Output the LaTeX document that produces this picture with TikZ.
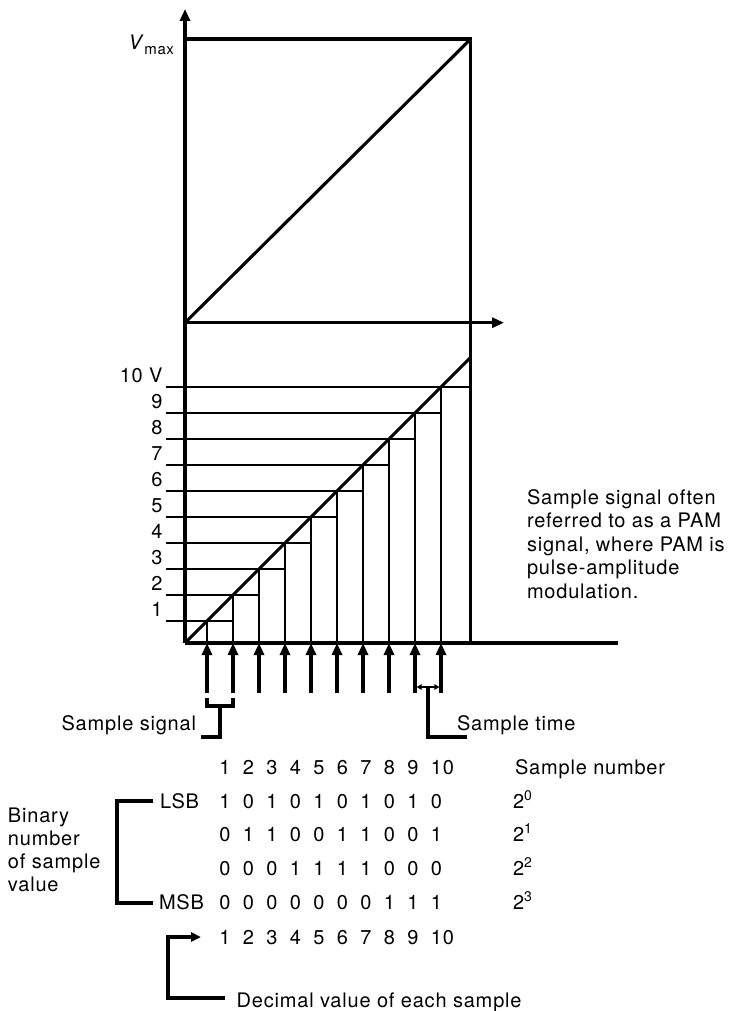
\documentclass[tikz,border=0pt]{standalone}
\usepackage{fontspec}
\setmainfont[LetterSpace=4]{TeX Gyre Heros}
\usetikzlibrary{arrows.meta}
\tikzset{
  boldln/.style={line width=3.1pt},
  thinln/.style={line width=1.5pt},
  headbig/.style={-{Triangle[length=12pt,width=10pt]}},
  txt/.style={inner sep=0pt, outer sep=0pt},
}
\begin{document}
\begin{tikzpicture}[x=1pt,y=-1pt,font=\fontsize{20}{24}\selectfont]
\useasboundingbox (0,0) rectangle (728,1011);
% main frame
\coordinate (O) at (185,643);
\coordinate (A) at (185,322.7);
\coordinate (TL) at (185,39);
\coordinate (TR) at (470.7,39);
\coordinate (BR) at (470.7,643);
\coordinate (ytip) at (185,9);
\coordinate (xtip) at (504,322.7);
\coordinate (Bend) at (618,643);
\coordinate (Dtop) at (470.7,357.3);
\draw[boldln] (TL) -- (TR) -- (BR);
\draw[boldln,headbig] (O) -- (ytip);
\draw[boldln,headbig] (A) -- (xtip);
\draw[boldln] (A) -- (TR);
\draw[boldln] (O) -- (Dtop);
\draw[boldln] (O) -- (Bend);
\node[txt,anchor=base east] (vmax) at (174,49.5) {\textit{V}\raisebox{-5pt}{\fontsize{15}{15}\selectfont max}};
% sample levels
\foreach \k in {1,...,10}{
  \coordinate (s\k) at ({207+26*(\k-1)},643);
  \coordinate (l\k) at ({207+26*(\k-1)},{621-26*(\k-1)});
  \coordinate (t\k) at (166,{621-26*(\k-1)});
  \coordinate (a\k) at ({207+26*(\k-1)},693);
}
\foreach \k in {1,...,10} \draw[thinln] (s\k) -- (l\k);
\foreach \k [evaluate=\k as \n using int(\k+1)] in {1,...,9}
  \draw[thinln] (t\k) -- (l\k -| s\n);
\draw[thinln] (t10) -- (l10 -| BR);
\foreach \k in {1,...,9}
  \node[txt,anchor=base east] (lab\k) at ([xshift=-3.5pt,yshift=5pt]t\k) {\k};
\node[txt,anchor=base east] (lab10) at ([xshift=-3.5pt,yshift=5pt]t10) {10 V};
% sample arrows
\foreach \k in {1,...,10} \draw[boldln,headbig] (a\k) -- (s\k);
% sample signal bracket
\coordinate (bk1) at (207,698);
\coordinate (bk2) at (233,698);
\coordinate (bm) at (220,706);
\coordinate (sigcorner) at (220,737);
\coordinate (sigend) at (201,737);
\draw[boldln] (bk1) -- ++(0,8) -| (bk2);
\draw[boldln] (bm) -- (sigcorner) -- (sigend);
\node[txt,anchor=base east] (sslab) at (196,730) {Sample signal};
% sample time
\coordinate (st1) at (416.6,687);
\coordinate (st2) at (439.4,687);
\coordinate (stm) at (428,687);
\coordinate (stcorner) at (428,737);
\coordinate (stend) at (467,737);
\draw[line width=1.5pt,{Triangle[length=5pt,width=5.5pt]}-{Triangle[length=5pt,width=5.5pt]}] (st1) -- (st2);
\draw[boldln] (stm) -- (stcorner) -- (stend);
\node[txt,anchor=base west] (stlab) at (457,730) {Sample time};
% paragraph
\foreach \t [count=\i] in {Sample signal often,referred to as a PAM,{signal, where PAM is},pulse-amplitude,modulation.}
  \node[txt,anchor=base west] (p\i) at (527,{504+23.5*(\i-1)}) {\t};
% table
\foreach \d [count=\k] in {1,2,3,4,5,6,7,8,9,10}
  \node[txt,anchor=base west] (h\k) at ({219.4+23.5*(\k-1)},774) {\d};
\node[txt,anchor=base west] (snum) at (515,774) {Sample number};
\foreach \d [count=\k] in {1,0,1,0,1,0,1,0,1,0}
  \node[txt,anchor=base west] (ra\k) at ({219.4+23.5*(\k-1)},808) {\d};
\foreach \d [count=\k] in {0,1,1,0,0,1,1,0,0,1}
  \node[txt,anchor=base west] (rb\k) at ({219.4+23.5*(\k-1)},841.5) {\d};
\foreach \d [count=\k] in {0,0,0,1,1,1,1,0,0,0}
  \node[txt,anchor=base west] (rc\k) at ({219.4+23.5*(\k-1)},875) {\d};
\foreach \d [count=\k] in {0,0,0,0,0,0,0,1,1,1}
  \node[txt,anchor=base west] (rd\k) at ({219.4+23.5*(\k-1)},909) {\d};
\foreach \d [count=\k] in {1,2,3,4,5,6,7,8,9,10}
  \node[txt,anchor=base west] (dv\k) at ({219.4+23.5*(\k-1)},944) {\d};
\node[txt,anchor=base west] (lsb) at (160,808) {LSB};
\node[txt,anchor=base west] (msb) at (159,909) {MSB};
\node[txt,anchor=base west] (e0) at (513,808) {2\textsuperscript{0}};
\node[txt,anchor=base west] (e1) at (513,841.5) {2\textsuperscript{1}};
\node[txt,anchor=base west] (e2) at (513,875) {2\textsuperscript{2}};
\node[txt,anchor=base west] (e3) at (513,909) {2\textsuperscript{3}};
% binary bracket
\coordinate (lb1) at (153,801);
\coordinate (lb2) at (117,801);
\coordinate (lb3) at (117,903);
\coordinate (lb4) at (153,903);
\draw[boldln] (lb1) -- (lb2) -- (lb3) -- (lb4);
\foreach \t [count=\i] in {Binary,number,of sample,value}
  \node[txt,anchor=base west] (bn\i) at (8,{822+23*(\i-1)}) {\t};
% decimal arrow
\coordinate (dc1) at (225,998);
\coordinate (dc2) at (168,998);
\coordinate (dc3) at (168,937);
\coordinate (dc4) at (201,937);
\draw[boldln,-{Triangle[length=10pt,width=9pt]}] (dc1) -- (dc2) -- (dc3) -- (dc4);
\node[txt,anchor=base west] (declab) at (236.7,1007) {Decimal value of each sample};
\end{tikzpicture}
\end{document}
